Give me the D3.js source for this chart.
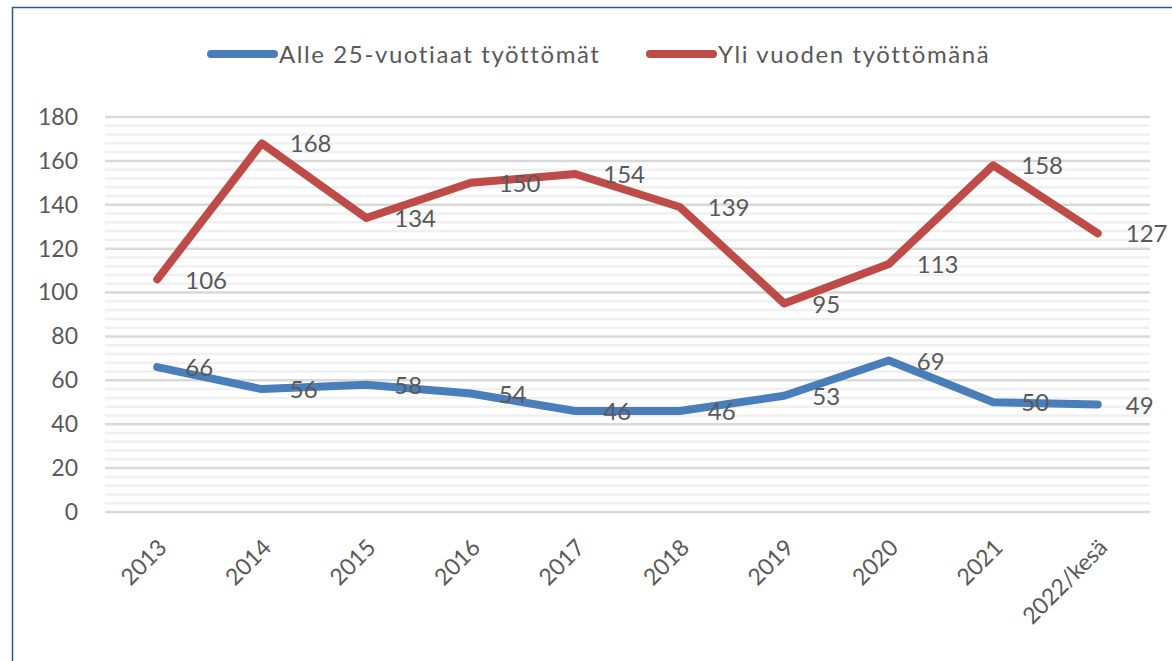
<!DOCTYPE html>
<html>
<head>
<meta charset="utf-8">
<script src="https://cdn.jsdelivr.net/npm/d3@7"></script>
<style>
  body { margin: 0; background: #fff; }
  svg text { font-family: Lato, "Open Sans", sans-serif; fill: #595959; }
</style>
</head>
<body>
<div id="chart"></div>
<script>
var categories = ["2013", "2014", "2015", "2016", "2017", "2018", "2019", "2020", "2021", "2022/kesä"];
var youngValues = [66, 56, 58, 54, 46, 46, 53, 69, 50, 49];
var longTermValues = [106, 168, 134, 150, 154, 139, 95, 113, 158, 127];
var seriesNames = ["Alle 25-vuotiaat työttömät", "Yli vuoden työttömänä"];
var yTicks = [0, 20, 40, 60, 80, 100, 120, 140, 160, 180];

var width = 1172, height = 661;
var margin = {left: 105, right: 22, top: 117, bottom: 149};

var svg = d3.select("#chart").append("svg")
    .attr("width", width)
    .attr("height", height);

// frame (only left and top visible in the crop)
svg.append("path")
    .attr("d", "M12.5," + height + "V7.5H" + width)
    .attr("fill", "none")
    .attr("stroke", "#2f5597")
    .attr("stroke-width", 1.5);

var x = d3.scaleBand()
    .domain(categories)
    .range([margin.left, width - margin.right]);

var y = d3.scaleLinear()
    .domain([0, 180])
    .range([height - margin.bottom, margin.top]);

// gridlines: minor every 4, major every 20
var minor = d3.range(0, 181, 4).filter(function(v){ return v % 20 !== 0; });
svg.append("g").selectAll("line")
    .data(minor).enter().append("line")
    .attr("x1", margin.left).attr("x2", width - margin.right)
    .attr("y1", function(d){ return y(d); })
    .attr("y2", function(d){ return y(d); })
    .attr("stroke", "#f0f0f0")
    .attr("stroke-width", 2.5);

svg.append("g").selectAll("line")
    .data(yTicks).enter().append("line")
    .attr("x1", margin.left).attr("x2", width - margin.right)
    .attr("y1", function(d){ return y(d); })
    .attr("y2", function(d){ return y(d); })
    .attr("stroke", "#d9d9d9")
    .attr("stroke-width", 2.5);

// y axis labels
var yAxis = d3.axisLeft(y).tickValues(yTicks).tickSize(0).tickPadding(0);
var gy = svg.append("g")
    .attr("transform", "translate(78,0)")
    .call(yAxis);
gy.select(".domain").remove();
gy.selectAll("text")
    .attr("font-size", 23)
    .attr("font-family", null)
    .attr("fill", "#595959");

// x axis labels, rotated
var xAxis = d3.axisBottom(x).tickSize(0).tickPadding(0);
var gx = svg.append("g")
    .attr("transform", "translate(0," + (height - margin.bottom) + ")")
    .call(xAxis);
gx.select(".domain").remove();
gx.selectAll("text")
    .attr("font-size", 23)
    .attr("font-family", null)
    .attr("fill", "#595959")
    .attr("text-anchor", "end")
    .attr("y", 0)
    .attr("dy", 0)
    .attr("transform", "translate(11,37) rotate(-45)");

var line = d3.line()
    .x(function(d, i){ return x(categories[i]) + x.bandwidth() / 2; })
    .y(function(d){ return y(d); });

var series = [
    {name: seriesNames[0], values: youngValues, color: "#4a7ebb"},
    {name: seriesNames[1], values: longTermValues, color: "#be4b48"}
];

series.forEach(function(s){
    svg.append("path")
        .datum(s.values)
        .attr("d", line)
        .attr("fill", "none")
        .attr("stroke", s.color)
        .attr("stroke-width", 8)
        .attr("stroke-linejoin", "round")
        .attr("stroke-linecap", "round");
});

series.forEach(function(s){
    svg.append("g").selectAll("text")
        .data(s.values).enter().append("text")
        .attr("x", function(d, i){ return x(categories[i]) + x.bandwidth() / 2 + 28; })
        .attr("y", function(d){ return y(d); })
        .attr("dy", "0.38em")
        .attr("font-size", 24)
        .attr("fill", "#404040")
        .text(function(d){ return d; });
});

// legend
var legendItems = [
    {name: seriesNames[0], color: "#4a7ebb", x: 211},
    {name: seriesNames[1], color: "#be4b48", x: 650}
];
var lg = svg.append("g").selectAll("g")
    .data(legendItems).enter().append("g")
    .attr("transform", function(d){ return "translate(" + d.x + ",54)"; });
lg.append("line")
    .attr("x1", 0).attr("x2", 63)
    .attr("stroke", function(d){ return d.color; })
    .attr("stroke-width", 8)
    .attr("stroke-linecap", "round");
lg.append("text")
    .attr("x", 68)
    .attr("dy", "0.36em")
    .attr("font-size", 24)
    .attr("letter-spacing", 1.6)
    .text(function(d){ return d.name; });
</script>
</body>
</html>
